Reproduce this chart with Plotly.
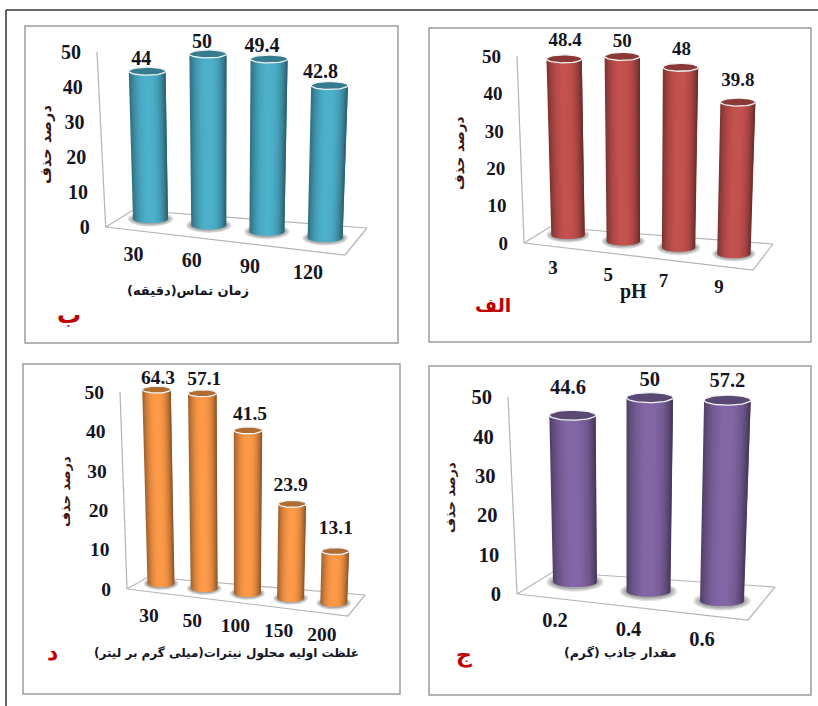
import math
import numpy as np
import plotly.graph_objects as go

W, H = 818, 706
Y_TICKS = [0, 10, 20, 30, 40, 50]
Y_MAX = 50

# ---- data ----
ph_labels = ["3", "5", "7", "9"]
ph_values = [48.4, 50, 48, 39.8]
time_labels = ["30", "60", "90", "120"]
time_values = [44, 50, 49.4, 42.8]
dose_labels = ["0.2", "0.4", "0.6"]
dose_values = [44.6, 50, 57.2]
conc_labels = ["30", "50", "100", "150", "200"]
conc_values = [64.3, 57.1, 41.5, 23.9, 13.1]

Y_TITLE = "درصد حذف"

# ---- panel geometry (pixels of the frame, perspective constants) ----
panels = [
    dict(letter="ب", labels=time_labels, values=time_values, color=(75, 172, 198),
         frame=(25, 26, 398, 343), origin=(150.5, 219), dx=58.2, dy=6.3, s=3.36, ds=0.020,
         lean0=-3.8, dlean=3.0, r=17.5, ry=4.0,
         axis=((105.7, 227), (97, 52)), tick_s=3.5, back_left=(133, 210), back_right=(367, 228), front_right=(345, 255),
         val_off=[(-6, -14), (-6, -13), (-7, -14), (-9, -15)], cat_off=(-17, 34),
         font=20, title="زمان تماس(دقیقه)", title_xy=(188, 290), title_size=13,
         ytitle_xy=(46, 145), ytitle_size=14.5, letter_xy=(69, 315), letter_size=24),
    dict(letter="الف", labels=ph_labels, values=ph_values, color=(192, 80, 77),
         frame=(429, 28, 811, 342), origin=(568, 235), dx=55.3, dy=6.3, s=3.64, ds=0.016,
         lean0=-4.0, dlean=3.0, r=16.7, ry=4.0,
         axis=((524, 243), (517, 56)), tick_s=3.74, back_left=(550, 227), back_right=(773, 244), front_right=(753, 270),
         val_off=[(1, -20), (0, -17), (1, -20), (0, -23)], cat_off=(-15, 32),
         font=19, title="pH", title_xy=(633, 291), title_size=20, title_serif=True,
         ytitle_xy=(459, 153), ytitle_size=13.5, letter_xy=(493, 305), letter_size=19),
    dict(letter="د", labels=conc_labels, values=conc_values, color=(247, 150, 70),
         frame=(23, 364, 400, 694), origin=(161, 583.5), dx=43.2, dy=4.9, s=3.88, ds=0.006,
         lean0=-4.5, dlean=2.6, r=13.5, ry=3.5,
         axis=((127, 589), (120, 392)), tick_s=3.94, back_left=(148, 577), back_right=(365, 595), front_right=(348, 616),
         val_off=[(1.5, -13), (2, -16), (2, -18), (-1.5, -20), (0.5, -24)], cat_off=(-12, 31),
         font=19.5, title="غلظت اولیه محلول نیترات(میلی گرم بر لیتر)", title_xy=(226, 653), title_size=12,
         ytitle_xy=(65, 492), ytitle_size=13, letter_xy=(52, 652), letter_size=22),
    dict(letter="ج", labels=dose_labels, values=dose_values, color=(128, 100, 162),
         frame=(429, 366, 811, 695), origin=(575, 582), dx=73.5, dy=9.5, s=3.74, ds=0.037,
         lean0=-2.8, dlean=4.1, r=22.0, ry=5.0,
         axis=((517, 594), (508, 397)), tick_s=3.94, back_left=(553, 572), back_right=(775, 587), front_right=(748, 620),
         val_off=[(-4.5, -29), (0, -19), (0, -21)], cat_off=(-20, 37),
         font=20.5, title="مقدار جاذب (گرم)", title_xy=(620, 653), title_size=12.5,
         ytitle_xy=(450, 498), ytitle_size=13, letter_xy=(464, 655), letter_size=22),
]

SERIF = "Liberation Serif"
SANS = "DejaVu Sans"
INK = "#15151f"
N_STRIPS = 22
TEXT_DROP = 2.5  # px, to centre the digits on their reference position


def shade(rgb, f):
    return "rgb(%d,%d,%d)" % tuple(min(255, int(c * f)) for c in rgb)


fig = go.Figure()
layout = {}
annotations = []
shapes = [
    dict(type="line", xref="paper", yref="paper", x0=6 / W, x1=1, y0=1 - 10 / H, y1=1 - 10 / H,
         line=dict(color="#333333", width=1.5)),
    dict(type="line", xref="paper", yref="paper", x0=6 / W, x1=6 / W, y0=0, y1=1 - 10 / H,
         line=dict(color="#333333", width=1.5)),
]

for k, p in enumerate(panels):
    suffix = "" if k == 0 else str(k + 1)
    xa, ya = "x" + suffix, "y" + suffix
    fx0, fy0, fx1, fy1 = p["frame"]
    ox, oy = p["origin"]
    dx, dy, s = p["dx"], p["dy"], p["s"]

    layout["xaxis" + suffix] = dict(domain=[fx0 / W, fx1 / W], range=[(fx0 - ox) / dx, (fx1 - ox) / dx],
                                    visible=False, anchor=ya, fixedrange=True)
    layout["yaxis" + suffix] = dict(domain=[1 - fy1 / H, 1 - fy0 / H], range=[(oy - fy1) / s, (oy - fy0) / s],
                                    visible=False, anchor=xa, fixedrange=True)
    shapes.append(dict(type="rect", xref="paper", yref="paper", x0=fx0 / W, x1=fx1 / W,
                       y0=1 - fy1 / H, y1=1 - fy0 / H, line=dict(color="#9c9c9c", width=1.5)))

    def px_x(px):
        return (px - ox) / dx

    def px_y(py):
        return (oy - py) / s

    def X(i, v, u=0.0):
        lean = p["lean0"] + p["dlean"] * i
        return i + (lean * (v / Y_MAX) + p["r"] * (1 + 0.06 * v / Y_MAX) * u) / dx

    def Y(i, v):
        return -(dy / s) * i + v * (1 + p["ds"] * i)

    def add_line(points, color, width):
        fig.add_trace(go.Scatter(
            x=[px_x(a) for a, _ in points], y=[px_y(b) for _, b in points], mode="lines",
            line=dict(color=color, width=width), xaxis=xa, yaxis=ya, hoverinfo="skip"))

    # floor and value axis
    a0, a50 = p["axis"]
    add_line([a0, p["back_left"], p["back_right"], p["front_right"], a0], "#b4b4b4", 1.2)
    add_line([a0, a50], "#b4b4b4", 1.2)

    plotted = [min(v, Y_MAX) for v in p["values"]]
    n = len(plotted)
    ts = np.linspace(0, 2 * math.pi, 49)

    # soft shadows under the cylinders
    for extra_r, extra_y, col in [(1.30, 0.9, "#dedede"), (1.2, 0.65, "#c4c4c4"), (1.1, 0.4, "#a8a8a8")]:
        xs, ys = [], []
        for i in range(n):
            xs += [i + (p["r"] * extra_r * math.cos(t)) / dx for t in ts] + [None]
            ys += [Y(i, 0) + (p["ry"] * (1 + extra_y) * math.sin(t)) / s for t in ts] + [None]
        fig.add_trace(go.Scatter(x=xs, y=ys, mode="lines", fill="toself", fillcolor=col,
                                 line=dict(width=0, color=col), xaxis=xa, yaxis=ya, hoverinfo="skip"))

    # cylinder bodies as shaded vertical strips, each overlapping the next so no seams show
    edges = np.linspace(-1, 1, N_STRIPS + 1)
    for j in range(N_STRIPS):
        u1, u2 = edges[j], edges[min(j + 2, N_STRIPS)]
        um = (edges[j] + edges[j + 1]) / 2
        f = 1.03 - 0.40 * abs(um) ** 2.2 - (0.10 * um ** 4 if um > 0 else 0)
        xs, ys = [], []
        for i, v in enumerate(plotted):
            us = np.linspace(u1, u2, 5)
            arc = [p["ry"] * math.sqrt(max(0, 1 - u * u)) / s for u in us]
            xs += [X(i, v, u) for u in us] + [X(i, 0, u) for u in us[::-1]] + [X(i, v, u1), None]
            ys += [Y(i, v) - a for a in arc] + [Y(i, 0) - a for a in arc[::-1]] + [Y(i, v) - arc[0], None]
        col = shade(p["color"], f)
        fig.add_trace(go.Scatter(x=xs, y=ys, mode="lines", fill="toself", fillcolor=col,
                                 line=dict(width=0, color=col), xaxis=xa, yaxis=ya, hoverinfo="skip"))

    # cylinder caps
    xs, ys = [], []
    for i, v in enumerate(plotted):
        xs += [X(i, v, math.cos(t)) for t in ts] + [None]
        ys += [Y(i, v) + p["ry"] * math.sin(t) / s for t in ts] + [None]
    fig.add_trace(go.Scatter(x=xs, y=ys, mode="lines", fill="toself", fillcolor=shade(p["color"], 0.72),
                             line=dict(width=1.3, color="#eef3f4"), xaxis=xa, yaxis=ya, hoverinfo="skip"))

    # value labels
    fig.add_trace(go.Scatter(
        x=[X(i, v) + p["val_off"][i][0] / dx for i, v in enumerate(plotted)],
        y=[Y(i, v) - (p["val_off"][i][1] + TEXT_DROP) / s for i, v in enumerate(plotted)],
        text=[str(v) for v in p["values"]], mode="text", textposition="middle center",
        textfont=dict(family=SERIF, size=p["font"], color=INK, weight="bold"),
        xaxis=xa, yaxis=ya, hoverinfo="skip"))

    # category labels
    fig.add_trace(go.Scatter(
        x=[X(i, 0) + p["cat_off"][0] / dx for i in range(n)],
        y=[Y(i, 0) - (p["cat_off"][1] + TEXT_DROP) / s for i in range(n)],
        text=p["labels"], mode="text", textposition="middle center",
        textfont=dict(family=SERIF, size=p["font"], color=INK, weight="bold"),
        xaxis=xa, yaxis=ya, hoverinfo="skip"))

    # value axis tick labels, right-aligned along the slanted axis
    axis_dx = a50[0] - a0[0]
    fig.add_trace(go.Scatter(
        x=[px_x(a0[0] + axis_dx * t / Y_MAX - 16) for t in Y_TICKS],
        y=[px_y(a0[1] - p["tick_s"] * t + TEXT_DROP - 0.5) for t in Y_TICKS],
        text=[str(t) for t in Y_TICKS], mode="text", textposition="middle left",
        textfont=dict(family=SERIF, size=p["font"], color=INK, weight="bold"),
        xaxis=xa, yaxis=ya, hoverinfo="skip"))

    # titles
    annotations.append(dict(
        x=p["ytitle_xy"][0] / W, y=1 - p["ytitle_xy"][1] / H, xref="paper", yref="paper",
        xanchor="center", yanchor="middle", text=Y_TITLE, textangle=-90, showarrow=False,
        font=dict(family=SANS, size=p["ytitle_size"], color="#3a1410", weight="bold")))
    annotations.append(dict(
        x=p["title_xy"][0] / W, y=1 - p["title_xy"][1] / H, xref="paper", yref="paper",
        xanchor="center", yanchor="middle", text=p["title"], showarrow=False,
        font=dict(family=SERIF if p.get("title_serif") else SANS, size=p["title_size"],
                  color=INK, weight="bold")))
    annotations.append(dict(
        x=p["letter_xy"][0] / W, y=1 - p["letter_xy"][1] / H, xref="paper", yref="paper",
        xanchor="center", yanchor="middle", text=p["letter"], showarrow=False,
        font=dict(family=SANS, size=p["letter_size"], color="#c00000", weight="bold")))

fig.update_layout(width=W, height=H, margin=dict(l=0, r=0, t=0, b=0), showlegend=False,
                  paper_bgcolor="white", plot_bgcolor="rgba(0,0,0,0)",
                  shapes=shapes, annotations=annotations, **layout)
fig.write_html("out.html", config={"displayModeBar": False},
               post_script="document.body.style.margin='0';")
